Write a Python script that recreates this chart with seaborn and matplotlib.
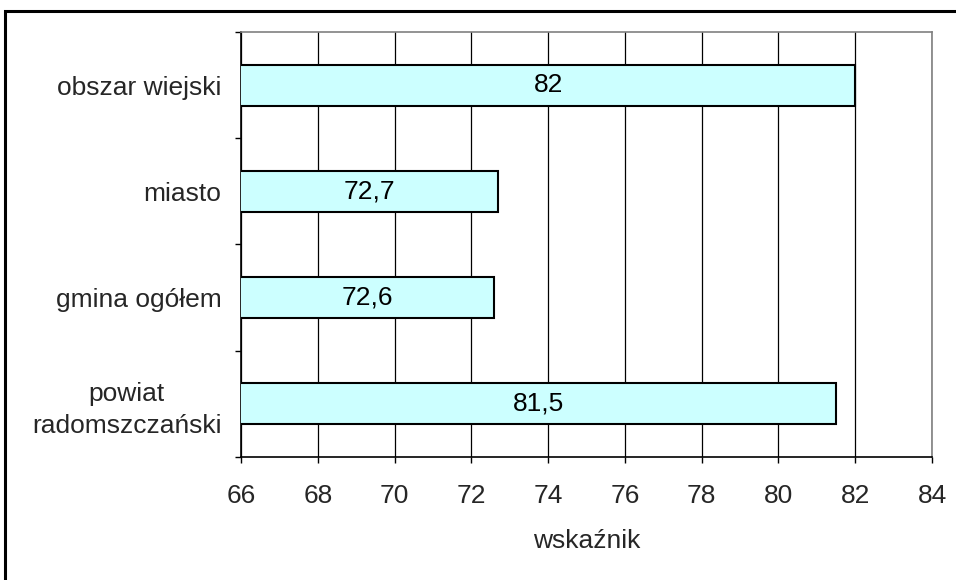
import matplotlib
matplotlib.use("Agg")
import matplotlib.pyplot as plt
from matplotlib.patches import Rectangle
import seaborn as sns
import pandas as pd

categories = ["obszar wiejski", "miasto", "gmina ogółem", "powiat\nradomszczański"]
values = [82.0, 72.7, 72.6, 81.5]
value_labels = ["82", "72,7", "72,6", "81,5"]
x_ticks = [66, 68, 70, 72, 74, 76, 78, 80, 82, 84]
x_label = "wskaźnik"

sns.set_theme(style="white")
plt.rcParams["font.family"] = ["Liberation Sans", "DejaVu Sans"]

FS = 19

df = pd.DataFrame({"kategoria": categories, "wartosc": values})

fig = plt.figure(figsize=(9.56, 5.8), dpi=100)
ax = fig.add_axes([0.2521, 0.2121, 0.7228, 0.7327])

sns.barplot(data=df, x="wartosc", y="kategoria", orient="h", order=categories,
            color="#CCFFFF", saturation=1, edgecolor="black", linewidth=1.5,
            width=0.385, ax=ax, zorder=3)

ax.set_xlim(66, 84)
ax.set_ylim(len(categories) - 0.5, -0.5)
ax.set_xticks(x_ticks)
ax.set_xticklabels([str(t) for t in x_ticks], fontsize=FS)
ax.grid(axis="x", color="black", linewidth=0.9, zorder=0)
ax.grid(axis="y", visible=False)

# category labels (major, no ticks) and boundary ticks (minor)
ax.set_yticks(range(len(categories)))
ax.set_yticklabels(categories, fontsize=FS, linespacing=1.42)
for lab in ax.get_yticklabels():
    lab.set_multialignment("center")
ax.set_yticks([i - 0.5 for i in range(len(categories) + 1)], minor=True)
ax.tick_params(axis="y", which="major", length=0, pad=14)
ax.tick_params(axis="y", which="minor", length=4.5, width=1, color="black",
               direction="out", left=True)
ax.tick_params(axis="x", length=4.5, width=1, color="black", direction="out",
               bottom=True, pad=15)

for spine in ("left", "bottom"):
    ax.spines[spine].set_color("black")
    ax.spines[spine].set_linewidth(1.2)
for spine in ("top", "right"):
    ax.spines[spine].set_color("#808080")
    ax.spines[spine].set_linewidth(1.2)

for i, (v, lab) in enumerate(zip(values, value_labels)):
    ax.text((66 + v) / 2, i, lab, ha="center", va="center", fontsize=FS,
            color="black", zorder=4)

ax.set_xlabel(x_label, fontsize=FS, labelpad=15)
ax.set_ylabel("")

# outer chart frame
fig.patches.append(Rectangle((5 / 956, -0.1), 1.2, (580 - 11) / 580 + 0.1,
                             transform=fig.transFigure, fill=False,
                             edgecolor="black", linewidth=2.2))

fig.savefig("out.png", dpi=100, facecolor="white")
